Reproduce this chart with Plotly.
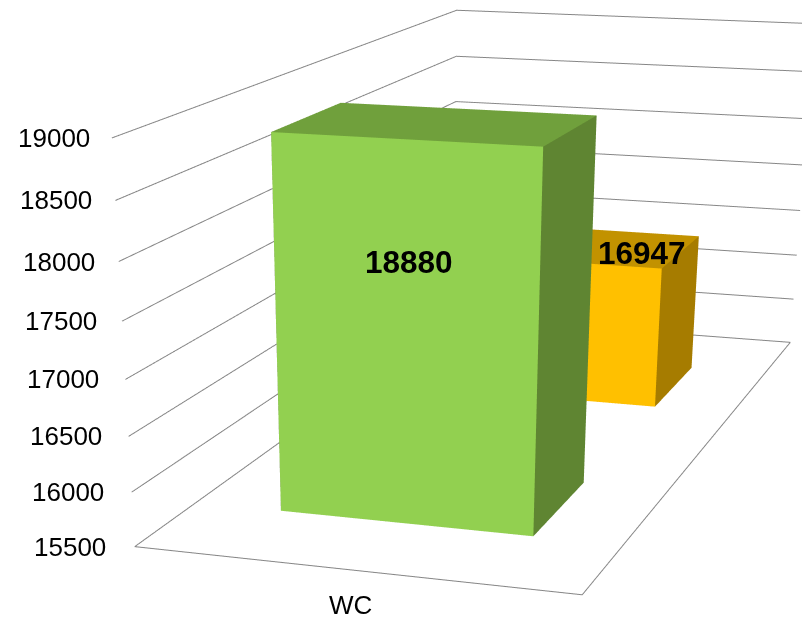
import plotly.graph_objects as go

# Chart data
category = "WC"
series_values = [18880, 16947]
value_ticks = [15500, 16000, 16500, 17000, 17500, 18000, 18500, 19000]

# Bar footprint inside each category / series slot
BAR_X = (0.2065, 0.7985)
BAR_Y = (0.299, 0.6735)

GRID = "#868686"
FACE_COLORS = [
    {"front": "#92D050", "top": "#70A03C", "side": "#5F8532"},
    {"front": "#FFC000", "top": "#C29200", "side": "#A67C00"},
]

# Axis ranges carry a small pad so lines on the box edge are not clipped
PAD = 0.01


def padded(lo, hi):
    span = hi - lo
    return [lo - PAD * span, hi + PAD * span]


def bar_trace(slot, value, colors):
    x0, x1 = BAR_X
    y0, y1 = slot + BAR_Y[0], slot + BAR_Y[1]
    z0, z1 = value_ticks[0], value
    xs = [x0, x1, x1, x0, x0, x1, x1, x0]
    ys = [y0, y0, y1, y1, y0, y0, y1, y1]
    zs = [z0, z0, z0, z0, z1, z1, z1, z1]
    quads = [
        ((0, 1, 5, 4), colors["front"]),
        ((1, 2, 6, 5), colors["side"]),
        ((4, 5, 6, 7), colors["top"]),
        ((3, 2, 6, 7), colors["side"]),
        ((0, 3, 7, 4), colors["side"]),
        ((0, 1, 2, 3), colors["side"]),
    ]
    i, j, k, fc = [], [], [], []
    for (a, b, c, d), col in quads:
        i += [a, a]
        j += [b, c]
        k += [c, d]
        fc += [col, col]
    return go.Mesh3d(
        x=xs, y=ys, z=zs, i=i, j=j, k=k, facecolor=fc, flatshading=True,
        lighting=dict(ambient=1, diffuse=0, specular=0, roughness=1, fresnel=0),
        hoverinfo="skip", showscale=False,
    )


# Wall gridlines plus the floor outline
gx, gy, gz = [], [], []
for v in value_ticks:
    gx += [0, 0, 1, None]
    gy += [0, 2, 2, None]
    gz += [v, v, v, None]
gx += [0, 1, 1]
gy += [0, 0, 2]
gz += [value_ticks[0]] * 3

fig = go.Figure()
fig.add_trace(go.Scatter3d(x=gx, y=gy, z=gz, mode="lines",
                           line=dict(color=GRID, width=2), hoverinfo="skip",
                           showlegend=False))
# Back bar first, front bar last
for slot in (1, 0):
    fig.add_trace(bar_trace(slot, series_values[slot], FACE_COLORS[slot]))

FONT = "Liberation Sans"
notes = []
for v in value_ticks:
    # Labels sit a little further from the wall toward the bottom of the axis
    gap = -20 - 7 * (value_ticks[-1] - v) / (value_ticks[-1] - value_ticks[0])
    notes.append(dict(x=0, y=0, z=v, text=str(v), showarrow=False, xanchor="right",
                      yanchor="middle", xshift=gap,
                      font=dict(family=FONT, size=26, color="#000000")))
notes.append(dict(x=0.5, y=0, z=value_ticks[0], text=category, showarrow=False,
                  xanchor="center", yanchor="middle", xshift=-2, yshift=-35,
                  font=dict(family=FONT, size=26, color="#000000")))
notes.append(dict(x=sum(BAR_X) / 2, y=BAR_Y[0], z=series_values[0], text=f"<b>{series_values[0]}</b>",
                  showarrow=False, xanchor="center", yanchor="middle", xshift=4, yshift=-123,
                  font=dict(family=FONT, size=31.5, color="#000000")))
notes.append(dict(x=BAR_X[1], y=1 + BAR_Y[0], z=series_values[1], text=f"<b>{series_values[1]}</b>",
                  showarrow=False, xanchor="center", yanchor="middle", xshift=-20, yshift=16,
                  font=dict(family=FONT, size=31.5, color="#000000")))

hidden = dict(visible=False, autorange=False)
scale = 1 + 2 * PAD
fig.update_layout(
    width=802, height=2000,
    margin=dict(l=0, r=0, t=0, b=0),
    paper_bgcolor="white", showlegend=False,
    scene=dict(
        domain=dict(x=[0, 1], y=[0, 1]),
        xaxis=dict(range=padded(0, 1), **hidden),
        yaxis=dict(range=padded(0, 2), **hidden),
        zaxis=dict(range=padded(value_ticks[0], value_ticks[-1]), **hidden),
        aspectmode="manual",
        aspectratio=dict(x=1 * scale, y=2.286 * scale, z=0.843 * scale),
        dragmode="orbit",
        camera=dict(
            eye=dict(x=1.67, y=-5.75, z=1.21),
            center=dict(x=-0.0807, y=-0.5912, z=-1.7502),
            up=dict(x=-0.1520, y=0.4538, z=0.8781),
        ),
        annotations=notes,
    ),
)
fig.write_html("out.html", post_script="document.documentElement.style.overflow='hidden';")
